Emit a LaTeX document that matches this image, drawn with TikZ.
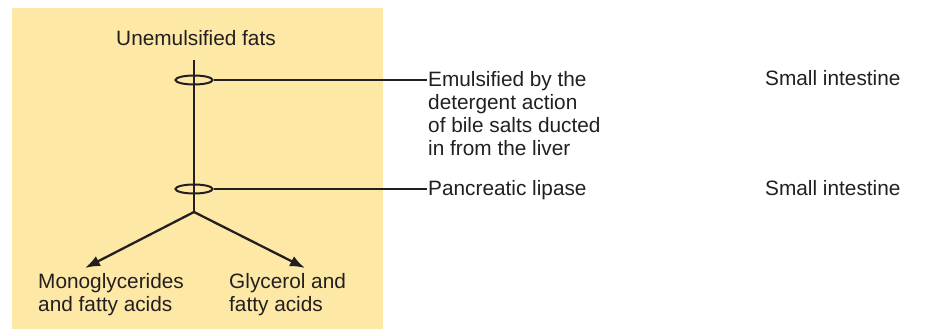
\documentclass[tikz,border=0pt]{standalone}
\usepackage{fontspec}
\setmainfont{Liberation Sans}
\usetikzlibrary{arrows.meta,shapes.geometric}
\definecolor{panel}{RGB}{253,232,165}
\definecolor{ink}{RGB}{35,31,32}
\begin{document}
\begin{tikzpicture}[x=1pt,y=-1pt,
  lbl/.style={inner sep=0pt,text=ink,font=\fontsize{20.8}{24}\selectfont},
  lnk/.style={draw=ink,line width=2.3pt},
  ring/.style={draw=ink,line width=2pt,ellipse,minimum width=37pt,minimum height=9pt,inner sep=0pt},
  arr/.style={lnk,-{Latex[length=15pt,width=11pt]}}]
\useasboundingbox (0,0) rectangle (925,329);
\fill[panel] (12,8) rectangle (383,329);
\node[lbl] (top) at (196,38) {Unemulsified fats};
\coordinate (start) at (194,60);
\coordinate (junc) at (194,212);
\draw[lnk] (start) -- (junc);
\node[ring] (e1) at (194,80) {};
\node[ring] (e2) at (194,189) {};
\coordinate (l1) at (427,80);
\coordinate (l2) at (427,189);
\draw[lnk,line width=2pt] (e1.east) -- (l1);
\draw[lnk,line width=2pt] (e2.east) -- (l2);
\node[lbl,anchor=west,align=left] (emul) at (428,114) {Emulsified by the\\[-1pt]detergent action\\[-1pt]of bile salts ducted\\[-1pt]in from the liver};
\node[lbl,anchor=base west] (lip) at (428,195) {Pancreatic lipase};
\node[lbl,anchor=base west] (si1) at (765,85) {Small intestine};
\node[lbl,anchor=base west] (si2) at (765,195) {Small intestine};
\coordinate (tipL) at (85,268);
\coordinate (tipR) at (305,268);
\draw[arr] (junc) -- (tipL);
\draw[arr] (junc) -- (tipR);
\node[lbl,anchor=north west,align=left] (mono) at (38,273) {Monoglycerides\\[-1pt]and fatty acids};
\node[lbl,anchor=north west,align=left] (glyc) at (229,273) {Glycerol and\\[-1pt]fatty acids};
\end{tikzpicture}
\end{document}
